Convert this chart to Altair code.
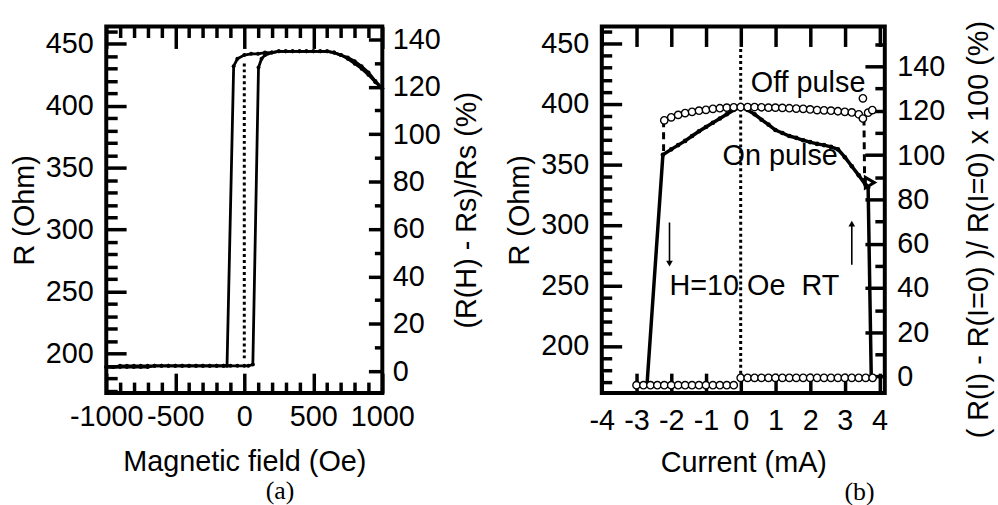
import altair as alt
import pandas as pd

# ---------------- panel (a): R vs magnetic field ----------------
H_down = [1000, 950, 900, 850, 800, 750, 700, 650, 600, 550, 500, 450, 400, 350,
          300, 250, 200, 150, 100, 50, 0, -50, -77,
          -125, -150, -200, -250, -300, -350, -400, -450, -500, -550, -600, -650,
          -700, -750, -800, -850, -900, -950, -1000]
R_down = [414, 420, 427, 432, 436, 439, 441, 443, 444, 444, 444, 444, 444, 444,
          444, 444, 443, 443, 442, 442, 441, 438, 432,
          190, 190, 190, 190, 190, 190, 190, 190, 190, 190, 190, 190,
          190, 190, 190, 190, 190, 189, 189]
H_up = [-1000, -950, -900, -850, -800, -750, -700, -650, -600, -550, -500, -450,
        -400, -350, -300, -250, -200, -150, -100, -50, 0, 30, 62,
        103, 125, 150, 200, 250, 300, 350, 400, 450, 500, 550, 600, 650, 700,
        750, 800, 850, 900, 950, 1000]
R_up = [189, 189, 189, 189, 189, 189, 189, 190, 190, 190, 190, 190,
        190, 190, 190, 190, 190, 190, 190, 190, 190, 190, 191,
        431, 438, 441, 443, 444, 444, 444, 444, 444, 444, 444, 444, 443, 441,
        438, 434, 430, 425, 419, 414]
H_zero = [0, 0]
R_zero = [196, 435]

H_major = [-1000, -500, 0, 500, 1000]
H_minor = [-900, -800, -700, -600, -400, -300, -200, -100,
           100, 200, 300, 400, 600, 700, 800, 900]
Ra_major = [200, 250, 300, 350, 400, 450]
Ra_minor = [170, 180, 190, 210, 220, 230, 240, 260, 270, 280, 290, 310, 320, 330,
            340, 360, 370, 380, 390, 410, 420, 430, 440, 460]
pa_major = [0, 20, 40, 60, 80, 100, 120, 140]
pa_minor = [10, 30, 50, 70, 90, 110, 130]

# ---------------- panel (b): R vs current ----------------
I_off = [-3.0, -2.8, -2.6, -2.4, -2.2, -2.0, -1.8, -1.6, -1.4, -1.2, -1.0, -0.8,
         -0.6, -0.4, -0.2,
         0.0, 0.2, 0.4, 0.6, 0.8, 1.0, 1.2, 1.4, 1.6, 1.8, 2.0, 2.2, 2.4, 2.6,
         2.8, 3.0, 3.2, 3.4, 3.6, 3.8,
         -2.2, -2.0, -1.8, -1.6, -1.4, -1.2, -1.0, -0.8, -0.6, -0.4, -0.2, 0.0,
         0.2, 0.4, 0.6, 0.8, 1.0, 1.2, 1.4, 1.6, 1.8, 2.0, 2.2, 2.4, 2.6, 2.8,
         3.0, 3.2, 3.4, 3.52, 3.52, 3.67, 3.79]
R_off = [167.5, 167.5, 167.5, 167.5, 167.5, 167.5, 167.5, 167.5, 167.5, 167.5,
         167.5, 167.5, 167.5, 167.5, 167.5,
         173.6, 173.6, 173.6, 173.6, 173.6, 173.6, 173.6, 173.6, 173.6, 173.6,
         173.6, 173.6, 173.6, 173.6, 173.6, 173.6, 173.6, 173.6, 173.6, 173.6,
         386.5, 389, 391, 392.5, 393.5, 394.5, 395.2, 396, 396.5, 397, 397.3, 397.5,
         397.5, 397.5, 397.3, 397, 397, 396.8, 396.5, 396.2, 396, 395.5, 395, 394.8,
         394.5, 394, 393.5, 393, 391.5, 388, 404.7, 392.8, 395]
I_on = [-2.7, -2.24, -2.0, -1.8, -1.6, -1.4, -1.2, -1.0, -0.8, -0.6, -0.4, -0.2,
        0.0, 0.2, 0.4, 0.6, 0.8, 1.0, 1.2, 1.4, 1.6, 1.8, 2.0, 2.2, 2.4, 2.6, 2.8,
        3.0, 3.2, 3.4, 3.6, 3.67, 3.76]
R_on = [167, 358, 362.5, 366, 369.5, 373.5, 377.5, 381, 384.5, 388, 391.5, 395,
        397.5, 395, 391.5, 387, 383, 378.5, 376, 373.5, 372, 370, 368.5, 367, 366,
        364.5, 362.5, 356, 348.5, 341, 333, 331, 174]
dash_seg = ["left", "left", "right", "right"]
I_dash = [-2.22, -2.22, 3.55, 3.57]
R_dash = [386.5, 360, 388, 333]
I_tri = [3.72]
R_tri = [335]
I_zero_b = [0, 0]
R_zero_b = [172, 446]
arrow_I = [-2.05, 3.2]
arrow_tail = [302, 267]
arrow_tip = [268, 301]
arrow_shape = ["triangle-down", "triangle-up"]
note_I = [0.29, -0.52, -2.05]
note_R = [417, 356.7, 249.7]
note_text = ["Off pulse", "On pulse", "H=10 Oe\u00a0\u00a0RT"]

I_major = [-4, -3, -2, -1, 0, 1, 2, 3, 4]
Rb_major = [200, 250, 300, 350, 400, 450]
Rb_minor = [170, 180, 190, 210, 220, 230, 240, 260, 270, 280, 290, 310, 320, 330,
            340, 360, 370, 380, 390, 410, 420, 430, 440, 460]
pb_major = [0, 20, 40, 60, 80, 100, 120, 140]
pb_minor = [10, 30, 50, 70, 90, 110, 130, 150]

FONT = "Liberation Sans"
FS = 29
PANEL_H = 369

xa = alt.Scale(domain=[-1000, 1000], nice=False, zero=False)
ya = alt.Scale(domain=[168, 464], nice=False, zero=False)
pa = alt.Scale(domain=[-9.2, 145.4], nice=False, zero=False)
xb = alt.Scale(domain=[-4, 4.15], nice=False, zero=False)
yb = alt.Scale(domain=[161, 464], nice=False, zero=False)
pb = alt.Scale(domain=[-7.4, 158], nice=False, zero=False)


def tick_axis(orient, values, size, **kw):
    opts = dict(orient=orient, values=values, tickSize=size, offset=-size,
                domain=False, grid=False, tickColor="black", tickWidth=3.5)
    if "title" not in kw:
        opts["title"] = None
    if "labelPadding" not in kw:
        opts["labels"] = False
    opts.update(kw)
    return alt.Axis(**opts)


def x_axis_layer(values, xscale, axis, yscale, ymid):
    df = pd.DataFrame({"v": values})
    return alt.Chart(df).mark_point(opacity=0).encode(
        x=alt.X("v:Q", scale=xscale, axis=axis),
        y=alt.YDatum(ymid, type="quantitative", scale=yscale, axis=None))


def y_axis_layer(values, yscale, axis, xscale, xmid):
    df = pd.DataFrame({"v": values})
    return alt.Chart(df).mark_point(opacity=0).encode(
        y=alt.Y("v:Q", scale=yscale, axis=axis),
        x=alt.XDatum(xmid, type="quantitative", scale=xscale, axis=None))


# ---------- panel (a) ----------
df_a = pd.DataFrame({
    "H": H_down + H_up,
    "R": R_down + R_up,
    "branch": ["down"] * len(H_down) + ["up"] * len(H_up),
    "idx": list(range(len(H_down))) + list(range(len(H_up))),
})
df_a0 = pd.DataFrame({"H": H_zero, "R": R_zero})
ym_a = Ra_major[2]
xm_a = H_major[2]

a_layers = [
    x_axis_layer(H_major, xa, tick_axis(
        "bottom", H_major, 20, labelPadding=10, labelExpr="toString(datum.value)",
        title="Magnetic field (Oe)", titlePadding=16), ya, ym_a),
    x_axis_layer(H_minor, xa, tick_axis("bottom", H_minor, 11), ya, ym_a),
    x_axis_layer(H_major, xa, tick_axis("top", H_major, 22), ya, ym_a),
    x_axis_layer(H_minor, xa, tick_axis("top", H_minor, 11), ya, ym_a),
    y_axis_layer(Ra_major, ya, tick_axis(
        "left", Ra_major, 20, labelPadding=13, labelExpr="toString(datum.value)",
        title="R (Ohm)", titlePadding=6), xa, xm_a),
    y_axis_layer(Ra_minor, ya, tick_axis("left", Ra_minor, 11), xa, xm_a),
    y_axis_layer(pa_major, pa, tick_axis(
        "right", pa_major, 14, labelPadding=10, labelExpr="toString(datum.value)",
        title="(R(H) - Rs)/Rs (%)", titlePadding=12, titleAngle=270,
        titleBaseline="top"), xa, xm_a),
    y_axis_layer(pa_minor, pa, tick_axis("right", pa_minor, 8), xa, xm_a),
    alt.Chart(df_a0).mark_line(color="black", strokeWidth=3, strokeDash=[3, 3]).encode(
        x=alt.X("H:Q", scale=xa, axis=None), y=alt.Y("R:Q", scale=ya, axis=None)),
    alt.Chart(df_a).mark_line(color="black", strokeWidth=2.8).encode(
        x=alt.X("H:Q", scale=xa, axis=None), y=alt.Y("R:Q", scale=ya, axis=None),
        detail="branch:N", order="idx:Q"),
    alt.Chart(df_a).mark_circle(color="black", size=16, opacity=1).encode(
        x=alt.X("H:Q", scale=xa, axis=None), y=alt.Y("R:Q", scale=ya, axis=None)),
]
panel_a = alt.layer(*a_layers).resolve_scale(y="independent").resolve_axis(
    x="independent", y="independent").properties(
    width=278, height=PANEL_H,
    title=alt.TitleParams("(a)", orient="bottom", dx=36, offset=2,
                          font="Liberation Serif", fontSize=26,
                          fontWeight="normal", color="black"))

# ---------- panel (b) ----------
df_off = pd.DataFrame({"I": I_off, "R": R_off})
df_on = pd.DataFrame({"I": I_on, "R": R_on, "idx": list(range(len(I_on)))})
df_dash = pd.DataFrame({"I": I_dash, "R": R_dash, "seg": dash_seg,
                        "idx": list(range(len(I_dash)))})
df_tri = pd.DataFrame({"I": I_tri, "R": R_tri})
df_b0 = pd.DataFrame({"I": I_zero_b, "R": R_zero_b})
df_arrow = pd.DataFrame({"I": arrow_I, "tail": arrow_tail, "tip": arrow_tip,
                         "shape": arrow_shape})
df_note = pd.DataFrame({"I": note_I, "R": note_R, "t": note_text})
ym_b = Rb_major[2]
xm_b = I_major[4]

b_layers = [
    x_axis_layer(I_major, xb, tick_axis(
        "bottom", I_major, 20, labelPadding=14, labelExpr="toString(datum.value)",
        title="Current (mA)", titlePadding=13), yb, ym_b),
    x_axis_layer(I_major, xb, tick_axis("top", I_major, 20), yb, ym_b),
    y_axis_layer(Rb_major, yb, tick_axis(
        "left", Rb_major, 20, labelPadding=13, labelExpr="toString(datum.value)",
        title="R (Ohm)", titlePadding=6), xb, xm_b),
    y_axis_layer(Rb_minor, yb, tick_axis("left", Rb_minor, 10), xb, xm_b),
    y_axis_layer(pb_major, pb, tick_axis(
        "right", pb_major, 20, labelPadding=12, labelExpr="toString(datum.value)",
        title="( R(I) - R(I=0) )/ R(I=0) x 100 (%)", titlePadding=20,
        titleAngle=270, titleBaseline="top", titleFontSize=29, titleY=204),
        xb, xm_b),
    y_axis_layer(pb_minor, pb, tick_axis("right", pb_minor, 10), xb, xm_b),
    alt.Chart(df_b0).mark_line(color="black", strokeWidth=3, strokeDash=[3, 3]).encode(
        x=alt.X("I:Q", scale=xb, axis=None), y=alt.Y("R:Q", scale=yb, axis=None)),
    alt.Chart(df_dash).mark_line(color="black", strokeWidth=3, strokeDash=[7, 5]).encode(
        x=alt.X("I:Q", scale=xb, axis=None), y=alt.Y("R:Q", scale=yb, axis=None),
        detail="seg:N", order="idx:Q"),
    alt.Chart(df_on).mark_line(color="black", strokeWidth=3.5).encode(
        x=alt.X("I:Q", scale=xb, axis=None), y=alt.Y("R:Q", scale=yb, axis=None),
        order="idx:Q"),
    alt.Chart(df_on).mark_circle(color="black", size=22, opacity=1).encode(
        x=alt.X("I:Q", scale=xb, axis=None), y=alt.Y("R:Q", scale=yb, axis=None)),
    alt.Chart(df_off).mark_point(shape="circle", size=55, filled=True, fill="white",
                                 stroke="black", strokeWidth=1.4, opacity=1).encode(
        x=alt.X("I:Q", scale=xb, axis=None), y=alt.Y("R:Q", scale=yb, axis=None)),
    alt.Chart(df_tri).mark_point(shape="triangle-right", size=110, filled=False,
                                 color="black", strokeWidth=3, opacity=1).encode(
        x=alt.X("I:Q", scale=xb, axis=None), y=alt.Y("R:Q", scale=yb, axis=None)),
    alt.Chart(df_arrow).mark_rule(color="black", strokeWidth=1.6).encode(
        x=alt.X("I:Q", scale=xb, axis=None), y=alt.Y("tail:Q", scale=yb, axis=None),
        y2="tip:Q"),
    alt.Chart(df_arrow).mark_point(filled=True, color="black", size=45, opacity=1).encode(
        x=alt.X("I:Q", scale=xb, axis=None), y=alt.Y("tip:Q", scale=yb, axis=None),
        shape=alt.Shape("shape:N", scale=None)),
    alt.Chart(df_note).mark_text(align="left", baseline="middle", font=FONT,
                                 fontSize=FS, color="black").encode(
        x=alt.X("I:Q", scale=xb, axis=None), y=alt.Y("R:Q", scale=yb, axis=None),
        text="t:N"),
]
panel_b = alt.layer(*b_layers).resolve_scale(y="independent").resolve_axis(
    x="independent", y="independent").properties(
    width=285, height=PANEL_H,
    title=alt.TitleParams("(b)", orient="bottom", dx=117, offset=2,
                          font="Liberation Serif", fontSize=26,
                          fontWeight="normal", color="black"))

chart = alt.hconcat(panel_a, panel_b, spacing=20).configure_view(
    stroke="black", strokeWidth=4
).configure_axis(
    labelFont=FONT, titleFont=FONT, labelFontSize=FS, titleFontSize=FS,
    titleFontWeight="normal", labelColor="black", titleColor="black",
    labelFlush=False, labelOverlap=False
).properties(
    padding={"left": 8, "top": 16, "right": 2, "bottom": 0},
    background="white"
)

chart.save("out.html", embed_options={"renderer": "svg", "actions": False})
